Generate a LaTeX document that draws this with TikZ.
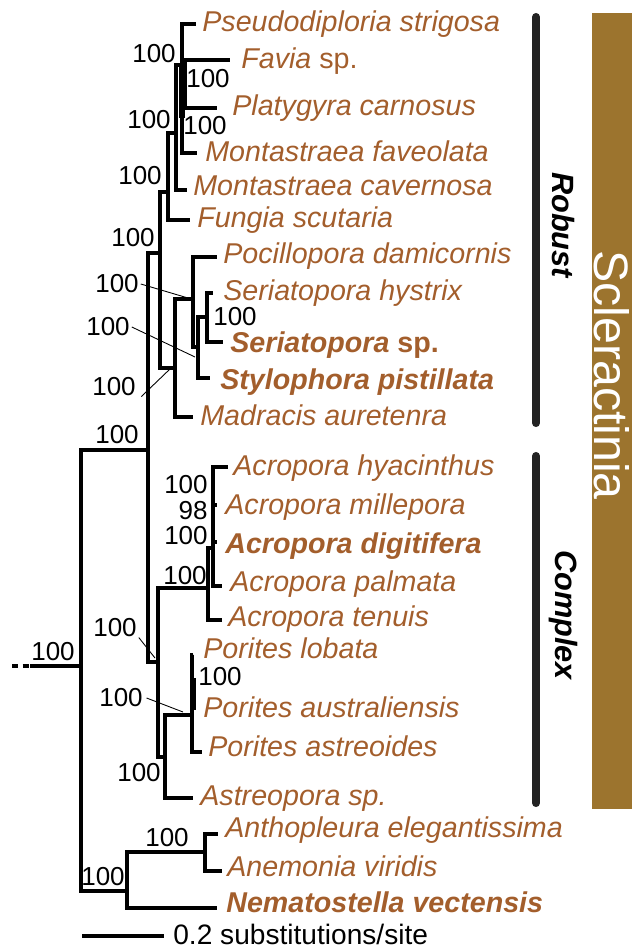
\documentclass[tikz,border=0pt]{standalone}
\usepackage{fontspec}
\setmainfont{Liberation Sans}
\definecolor{taxbrown}{RGB}{163,94,44}
\definecolor{sclgold}{RGB}{156,116,46}
\definecolor{bardark}{RGB}{35,35,35}

\begin{document}
\begin{tikzpicture}[x=0.02cm, y=-0.02cm, line join=miter,
    branch/.style={line width=2pt},
    leader/.style={line width=0.5pt},
    taxon/.style={anchor=base west, inner sep=0pt, yshift=-0.19cm, text=taxbrown,
      font=\fontsize{16.3}{19}\selectfont\itshape},
    taxonbf/.style={taxon, font=\fontsize{16.3}{19}\selectfont\bfseries\itshape},
    support/.style={inner sep=0pt, font=\fontsize{14.8}{17}\selectfont},
    cladebar/.style={line width=4.6pt, line cap=round, draw=bardark},
    cladename/.style={rotate=-90, inner sep=0pt, font=\fontsize{17.5}{20}\selectfont\bfseries\itshape}]
  % picture is laid out in pixels of the 632 x 950 frame
  \useasboundingbox (0,0) rectangle (632,950);

  % Scleractinia band and clade bars
  \fill[sclgold] (592,13) rectangle (632,809);
  \node[rotate=-90, inner sep=0pt, text=white, font=\fontsize{27.5}{30}\selectfont] (scltext) at (612,375) {Scleractinia};
  \coordinate (robtop) at (536,17);  \coordinate (robbot) at (536,423);
  \coordinate (cpxtop) at (536,456); \coordinate (cpxbot) at (536,803);
  \draw[cladebar] (robtop) -- (robbot);
  \draw[cladebar] (cpxtop) -- (cpxbot);
  \node[cladename] (robust) at (563,225) {Robust};
  \node[cladename] (complex) at (563,615) {Complex};

  % Internal nodes
  \coordinate (root) at (81,666);
  \coordinate (scl) at (148,450);
  \coordinate (rob) at (160,253);
  \coordinate (fun) at (168,192);
  \coordinate (mon) at (176,133);
  \coordinate (fav) at (182,65);
  \coordinate (favbot) at (182,118);
  \coordinate (fp) at (185,84);
  \coordinate (poc) at (175,368);
  \coordinate (ps) at (193,299);
  \coordinate (ss) at (198,347);
  \coordinate (ser) at (207,317);
  \coordinate (cpx) at (158,662);
  \coordinate (acr) at (208,588);
  \coordinate (acr2) at (213,548);
  \coordinate (pa) at (165,757);
  \coordinate (por) at (192,715);
  \coordinate (portop) at (193,678); \coordinate (porbot) at (193,710);
  \coordinate (act) at (127,891);
  \coordinate (aa) at (205,852);

  % Tips
  \coordinate (tPstr) at (196,24);
  \coordinate (tFav) at (230,60);
  \coordinate (tPlat) at (217,108);
  \coordinate (tMfav) at (197,153);
  \coordinate (tMcav) at (187,190);
  \coordinate (tFung) at (190,220);
  \coordinate (tPoc) at (217,257);
  \coordinate (tShys) at (213,293);
  \coordinate (tSsp) at (223,342);
  \coordinate (tSpis) at (210,378);
  \coordinate (tMadr) at (193,417);
  \coordinate (tAhya) at (228,467);
  \coordinate (tAmil) at (217,505);
  \coordinate (tAdig) at (217,542);
  \coordinate (tApal) at (222,586);
  \coordinate (tAten) at (222,620);
  \coordinate (tPlob) at (193,655);
  \coordinate (tPast) at (202,752);
  \coordinate (tAsp) at (193,798);
  \coordinate (tAele) at (218,834);
  \coordinate (tAvir) at (222,871);
  \coordinate (tNvec) at (217,908);

  % Taxon labels
  \node[taxon] (Pstr) at (202,22) {Pseudodiploria strigosa};
  \node[taxon] (Fav) at (241,59) {Favia \upshape sp.};
  \node[taxon] (Plat) at (232,106) {Platygyra carnosus};
  \node[taxon] (Mfav) at (205,152) {Montastraea faveolata};
  \node[taxon] (Mcav) at (193,186) {Montastraea cavernosa};
  \node[taxon] (Fung) at (197,218) {Fungia scutaria};
  \node[taxon] (Poc) at (223,254) {Pocillopora damicornis};
  \node[taxon] (Shys) at (223,291) {Seriatopora hystrix};
  \node[taxonbf] (Ssp) at (230,343) {Seriatopora \upshape sp.};
  \node[taxonbf] (Spis) at (220,380) {Stylophora pistillata};
  \node[taxon] (Madr) at (200,416) {Madracis auretenra};
  \node[taxon] (Ahya) at (233,466) {Acropora hyacinthus};
  \node[taxon] (Amil) at (225,505) {Acropora millepora};
  \node[taxonbf] (Adig) at (225,544) {Acropora digitifera};
  \node[taxon] (Apal) at (230,582) {Acropora palmata};
  \node[taxon] (Aten) at (228,617) {Acropora tenuis};
  \node[taxon] (Plob) at (203,649) {Porites lobata};
  \node[taxon] (Paus) at (203,708) {Porites australiensis};
  \node[taxon] (Past) at (208,747) {Porites astreoides};
  \node[taxon] (Asp) at (200,796) {Astreopora sp.};
  \node[taxon] (Aele) at (225,828) {Anthopleura elegantissima};
  \node[taxon] (Avir) at (227,867) {Anemonia viridis};
  \node[taxonbf] (Nvec) at (226,903) {Nematostella vectensis};

  % Branches
  \coordinate (rootdot) at (12,666); \coordinate (rootend) at (30,666);
  \draw[branch, dash pattern=on 3.5pt off 2.5pt] (rootdot) -- (rootend);
  \draw[branch] (rootend) -- (root);
  \draw[branch] (root) |- (scl) (root) |- (act);
  \draw[branch] (scl) |- (rob) (scl) |- (cpx);
  % Robust
  \draw[branch] (rob) |- (fun) (rob) |- (poc);
  \draw[branch] (fun) |- (mon) (fun) |- (tFung);
  \draw[branch] (mon) |- (fav) (mon) |- (tMcav);
  \draw[branch] (fav) |- (tPstr) (fav) |- (fp) (fav) |- (tMfav);
  \draw[line width=3pt] (fav) -- (favbot);
  \draw[branch] (fp) |- (tFav) (fp) |- (tPlat);
  \draw[branch] (poc) |- (ps) (poc) |- (tMadr);
  \draw[branch] (ps) |- (tPoc) (ps) |- (ss);
  \draw[branch] (ss) |- (ser) (ss) |- (tSpis);
  \draw[branch] (ser) |- (tShys) (ser) |- (tSsp);
  % Complex
  \draw[branch] (cpx) |- (acr) (cpx) |- (pa);
  \draw[branch] (acr) |- (acr2) (acr) |- (tAten);
  \draw[branch] (acr2) |- (tAhya) (acr2) |- (tAmil) (acr2) |- (tAdig) (acr2) |- (tApal);
  \draw[branch] (pa) |- (por) (pa) |- (tAsp);
  \draw[branch] (por) |- (tPlob) (por) |- (tPast);
  \draw[line width=3pt] (portop) -- (porbot);
  % Actiniaria
  \draw[branch] (act) |- (aa) (act) |- (tNvec);
  \draw[branch] (aa) |- (tAele) (aa) |- (tAvir);

  % Support values
  \node[support] (s1) at (154,54) {100};
  \node[support] (s2) at (208,79) {100};
  \node[support] (s3) at (149,120) {100};
  \node[support] (s4) at (205,126) {100};
  \node[support] (s5) at (140,176) {100};
  \node[support] (s6) at (133,238) {100};
  \node[support] (s7) at (117,284) {100};
  \node[support] (s8) at (108,327) {100};
  \node[support] (s9) at (235,317) {100};
  \node[support] (s10) at (114,387) {100};
  \node[support] (s11) at (117,435) {100};
  \node[support] (s12) at (53,652) {100};
  \node[support, anchor=east] (s13) at (208,485) {100};
  \node[support, anchor=east] (s14) at (208,511) {98};
  \node[support, anchor=east] (s15) at (208,536) {100};
  \node[support] (s16) at (185,576) {100};
  \node[support] (s17) at (115,628) {100};
  \node[support] (s18) at (220,677) {100};
  \node[support] (s19) at (121,698) {100};
  \node[support] (s20) at (139,773) {100};
  \node[support] (s21) at (167,838) {100};
  \node[support] (s22) at (103,877) {100};

  % Leader lines
  \coordinate (l7) at (188,298);
  \coordinate (l8) at (195,357);
  \coordinate (l10) at (170,369);
  \coordinate (l17) at (155,658);
  \coordinate (l19) at (183,712);
  \draw[leader] ([xshift=1pt]s7.east) -- (l7);
  \draw[leader] ([xshift=1pt]s8.east) -- (l8);
  \draw[leader] ([xshift=3pt]s10.south east) -- (l10);
  \draw[leader] ([xshift=1pt]s17.south east) -- (l17);
  \draw[leader] ([xshift=2pt]s19.east) -- (l19);

  % Scale bar
  \coordinate (sc0) at (82,936); \coordinate (sc1) at (164,936);
  \draw[branch] (sc0) -- (sc1);
  \node[anchor=west, inner sep=0pt, font=\fontsize{16}{18}\selectfont] (scale) at (173,934) {0.2 substitutions/site};
\end{tikzpicture}
\end{document}
